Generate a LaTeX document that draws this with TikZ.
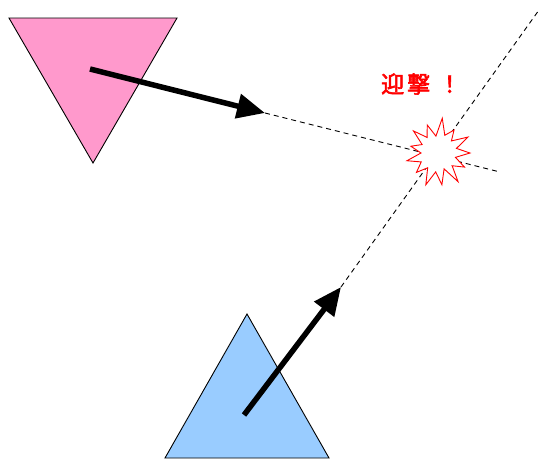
\documentclass[tikz,border=0pt]{standalone}
\usepackage{fontspec}
\newfontfamily\cjk[FakeBold=2.5]{Noto Sans CJK JP}
\usetikzlibrary{arrows.meta}
\definecolor{pinkfill}{RGB}{255,153,204}
\definecolor{bluefill}{RGB}{153,204,255}
\tikzset{
  tri/.style={draw=black, line width=0.9pt, line join=miter},
  bigarrow/.style={line width=5.5pt, -{Triangle[length=28pt,width=24pt]}},
  track/.style={line width=0.9pt, dash pattern=on 5pt off 4pt},
  blast/.style={draw=red, fill=white, line width=0.9pt, line join=miter}
}
\begin{document}
\begin{tikzpicture}[x=1pt,y=-1pt]
\useasboundingbox (0,0) rectangle (539,459);
% coordinates
\coordinate (p1) at (9,18);
\coordinate (p2) at (177,18);
\coordinate (p3) at (93,163);
\coordinate (b1) at (247,314);
\coordinate (b2) at (165,458);
\coordinate (b3) at (329,458);
\coordinate (pa) at (90,69);
\coordinate (pt) at (265,113);
\coordinate (pe) at (500,172);
\coordinate (ba) at (244,415);
\coordinate (bt) at (341,287);
\coordinate (be) at (539,10);
\coordinate (hit) at (438,153);
% triangles
\draw[tri, fill=pinkfill] (p1) -- (p2) -- (p3) -- cycle;
\draw[tri, fill=bluefill] (b1) -- (b2) -- (b3) -- cycle;
% tracks
\draw[track] (pt) -- (pe);
\draw[track] (bt) -- (be);
% arrows
\draw[bigarrow] (pa) -- (pt);
\draw[bigarrow] (ba) -- (bt);
% explosion
\draw[blast] ([shift={(0:32)}]hit) -- ([shift={(14:18)}]hit) -- ([shift={(28:30)}]hit) -- ([shift={(42:19)}]hit)
 -- ([shift={(55:35)}]hit) -- ([shift={(69:17)}]hit) -- ([shift={(83:32)}]hit) -- ([shift={(97:19)}]hit)
 -- ([shift={(111:34)}]hit) -- ([shift={(125:18)}]hit) -- ([shift={(138:29)}]hit) -- ([shift={(152:19)}]hit)
 -- ([shift={(166:32)}]hit) -- ([shift={(180:17)}]hit) -- ([shift={(194:28)}]hit) -- ([shift={(208:18)}]hit)
 -- ([shift={(222:33)}]hit) -- ([shift={(235:19)}]hit) -- ([shift={(249:30)}]hit) -- ([shift={(263:17)}]hit)
 -- ([shift={(277:35)}]hit) -- ([shift={(291:19)}]hit) -- ([shift={(305:28)}]hit) -- ([shift={(318:18)}]hit)
 -- ([shift={(332:34)}]hit) -- ([shift={(346:19)}]hit) -- cycle;
% label
\node[text=red, font=\cjk\fontsize{23pt}{25pt}\selectfont, inner sep=0pt, anchor=west] (lbl) at (381,84) {迎\hspace{3pt}撃\hspace{8pt}！};
\end{tikzpicture}
\end{document}
